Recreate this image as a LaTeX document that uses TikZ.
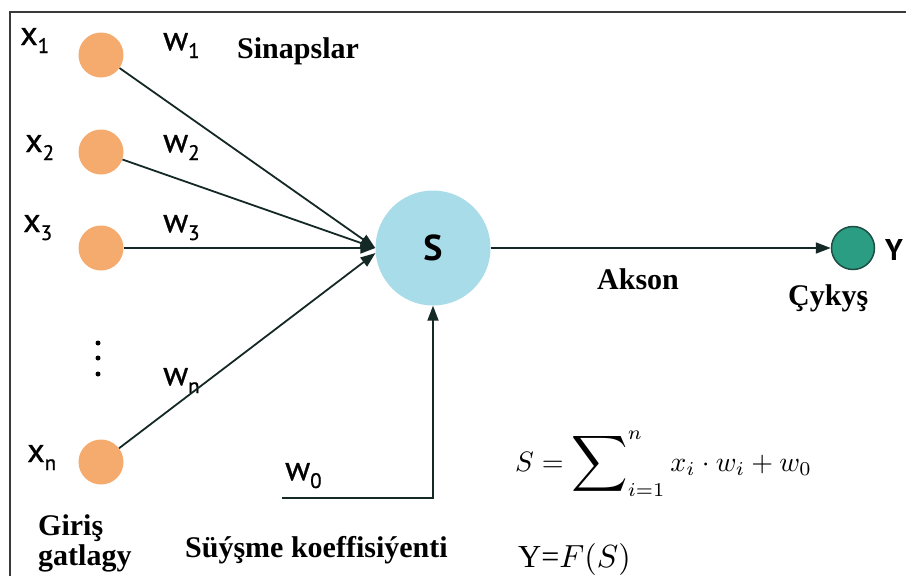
\documentclass[tikz,border=0pt]{standalone}
\usepackage{amsmath}
\usepackage{fontspec}
\setmainfont{Liberation Serif}
\newfontfamily\lblfont[FakeBold=0.8]{PT Sans}
\newfontfamily\headfont{PT Sans}
\usetikzlibrary{positioning, arrows.meta, calc}

\definecolor{inorange}{HTML}{F5AA6E}
\definecolor{sumblue}{HTML}{A8DCE9}
\definecolor{outgreen}{HTML}{2A9D82}
\definecolor{outedge}{HTML}{1D4F45}
\definecolor{wirecol}{HTML}{142826}
\definecolor{framecol}{HTML}{3A3A3A}

\newcommand{\sublbl}[2]{#1\raisebox{-8pt}{\fontsize{21}{21}\selectfont #2}}
\newcommand{\bigsum}{\mathop{\vcenter{\hbox{\scalebox{1.4}{$\displaystyle\sum$}}}}}

\begin{document}
\begin{tikzpicture}[
    x=1pt, y=-1pt,
    node distance=6pt and 10pt,
    neuron/.style={circle, fill=inorange, minimum size=45pt, inner sep=0pt},
    sumnode/.style={circle, fill=sumblue, minimum size=115pt, inner sep=0pt, font=\headfont\bfseries\fontsize{36}{36}\selectfont},
    outnode/.style={circle, fill=outgreen, draw=outedge, line width=1.5pt, minimum size=43pt, inner sep=0pt},
    varlbl/.style={font=\lblfont\fontsize{34}{34}\selectfont, inner sep=0pt, anchor=base west},
    boldlbl/.style={font=\bfseries\fontsize{30}{32}\selectfont, inner sep=0pt, anchor=base west},
    wire/.style={line width=1.8pt, draw=wirecol, -{Triangle[length=15pt, width=11pt]}}
]
\useasboundingbox (0,0) rectangle (906,576);

% Frame
\draw[line width=1.5pt, framecol] (906,12) -- (10,12) -- (10,576);

% Nodes
\node[neuron] (in1) at (101,55) {};
\node[neuron] (in2) at (101,152) {};
\node[neuron] (in3) at (101,248) {};
\node[neuron] (inn) at (101,462) {};
\node[sumnode] (S) at (433,248) {S};
\node[outnode] (out) at (853,248) {};
\coordinate (b0) at (282,498);

\foreach \y in {343,358,374} \fill (98,\y) circle (2.5pt);

% Labels
\node[varlbl] (x1) at (20,45) {\sublbl{x}{1}};
\node[varlbl] (x2) at (25,152) {\sublbl{x}{2}};
\node[varlbl] (x3) at (23,232) {\sublbl{x}{3}};
\node[varlbl] (xn) at (27,462) {\sublbl{x}{n}};
\node[varlbl] (w1) at (163,50) {\sublbl{w}{1}};
\node[varlbl] (w2) at (163,152) {\sublbl{w}{2}};
\node[varlbl] (w3) at (163,232) {\sublbl{w}{3}};
\node[varlbl] (wn) at (163,385) {\sublbl{w}{n}};
\node[varlbl] (w0) at (285,480) {\sublbl{w}{0}};
\node[varlbl, font=\headfont\bfseries\fontsize{30}{30}\selectfont] (Y) at (885,260) {Y};

\node[boldlbl] (sinaps) at (237,58) {Sinapslar};
\node[boldlbl] (akson) at (597,289) {Akson};
\node[boldlbl] (cykys) at (788,305) {Çykyş};
\node[boldlbl] (giris) at (38,535) {Giriş};
\node[boldlbl] (gatlagy) at (38,565) {gatlagy};
\node[boldlbl] (suysme) at (185,557) {Süýşme koeffisiýenti};

\node[inner sep=0pt, anchor=base west] (formula) at (515,471)
    {\scalebox{2.8}{$S=\bigsum\nolimits_{i=1}^{n} x_i\cdot w_i+w_0$}};
\node[inner sep=0pt, anchor=base west] (yfs) at (518,567)
    {\scalebox{3.2}{Y=$F(S)$}};

% Arrows
\draw[wire] (in1) -- (S.west);
\draw[wire] (in2) -- (S.west);
\draw[wire] (in3) -- (S.west);
\draw[wire] (inn) -- (S.185);
\draw[wire] (b0) -| (S.south);
\draw[wire] (S) -- (out);

\end{tikzpicture}
\end{document}
